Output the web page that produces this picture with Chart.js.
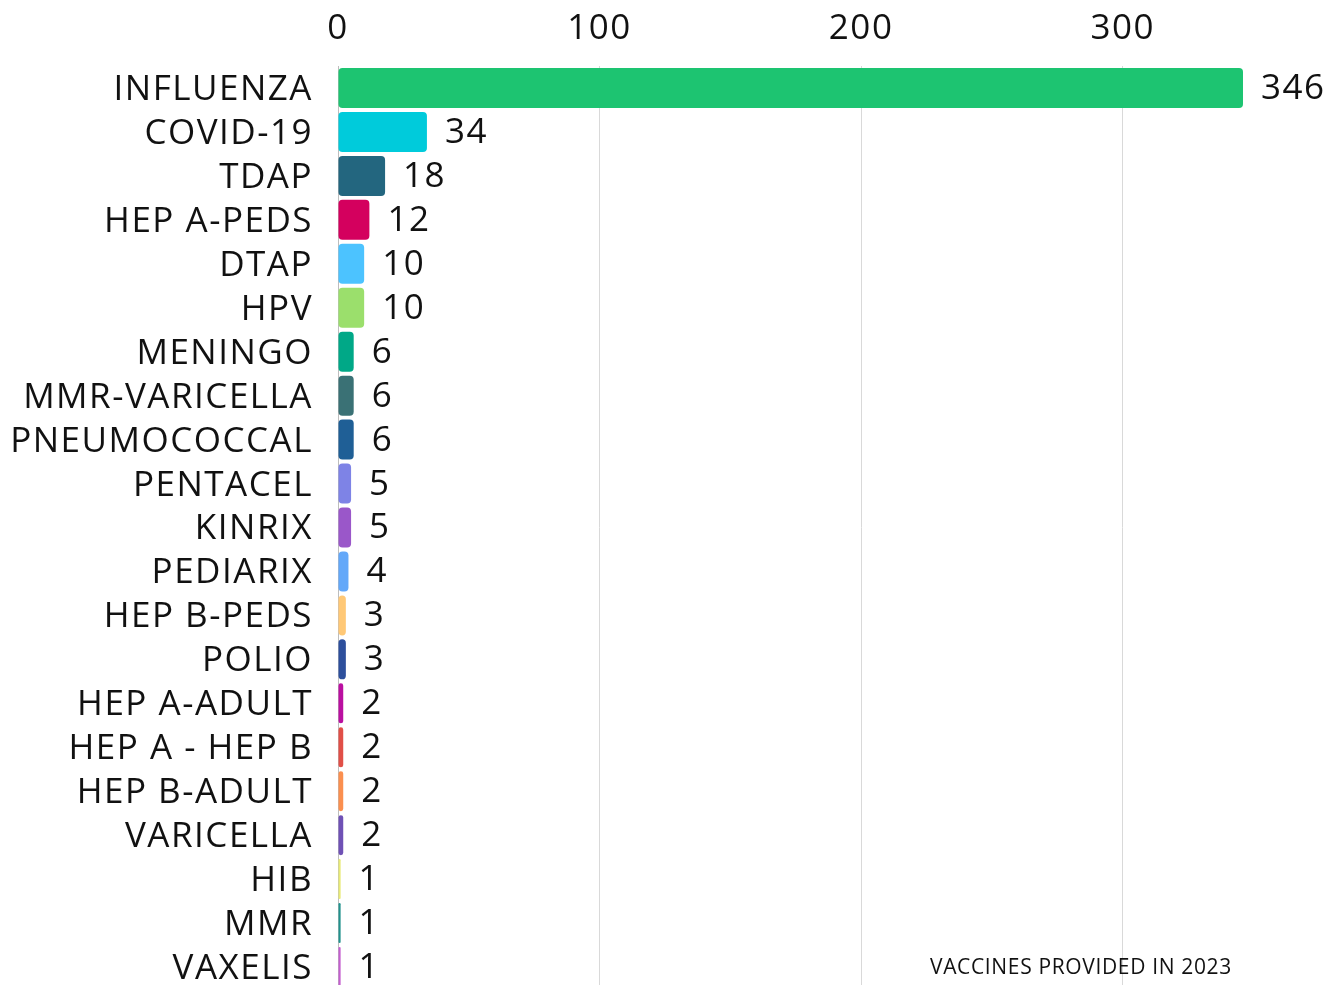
<!DOCTYPE html>
<html>
<head>
<meta charset="utf-8">
<script src="https://cdn.jsdelivr.net/npm/chart.js@4/dist/chart.umd.min.js"></script>
<style>
html,body{margin:0;padding:0;background:#fff;overflow:hidden;}
#wrap{position:relative;width:1331px;height:985px;overflow:hidden;}
#footer{position:absolute;left:930px;top:952px;font-family:"Open Sans",sans-serif;font-size:21px;letter-spacing:0.65px;color:#111;white-space:nowrap;}
</style>
</head>
<body>
<div id="wrap">
<canvas id="c" width="1331" height="1035"></canvas>
<div id="footer">VACCINES PROVIDED IN 2023</div>
</div>
<script>
const categories = ["INFLUENZA","COVID-19","TDAP","HEP A-PEDS","DTAP","HPV","MENINGO","MMR-VARICELLA","PNEUMOCOCCAL","PENTACEL","KINRIX","PEDIARIX","HEP B-PEDS","POLIO","HEP A-ADULT","HEP A - HEP B","HEP B-ADULT","VARICELLA","HIB","MMR","VAXELIS"];
const values = [346,34,18,12,10,10,6,6,6,5,5,4,3,3,2,2,2,2,1,1,1];
const barColors = ["#1DC471","#00CBDB","#23667F","#D4005E","#4CC3FF","#9BDF6C","#00A887","#3A7175","#1F5F96","#7E83E6","#9A57C9","#63A8F9","#FFC876","#2D4F9C","#BA0FA0","#E14F47","#FB8F4F","#6F51B5","#E8EA75","#21928D","#C45ECF"];
const xTicks = [0,100,200,300];

const FONT = "'Open Sans', sans-serif";
const SPACING = '1.5px';

const spacingPlugin = {
  id: 'spacing',
  beforeUpdate(chart) { chart.ctx.letterSpacing = SPACING; },
  beforeLayout(chart) { chart.ctx.letterSpacing = SPACING; },
  beforeDraw(chart) { chart.ctx.letterSpacing = SPACING; }
};

const valueLabels = {
  id: 'valueLabels',
  afterDatasetsDraw(chart) {
    const ctx = chart.ctx;
    const meta = chart.getDatasetMeta(0);
    ctx.save();
    ctx.letterSpacing = SPACING;
    ctx.font = "35px " + FONT;
    ctx.fillStyle = "#111";
    ctx.textAlign = "left";
    ctx.textBaseline = "middle";
    meta.data.forEach((bar, i) => {
      ctx.fillText(String(values[i]), bar.x + 18, bar.y + 1);
    });
    ctx.restore();
  }
};

new Chart(document.getElementById('c'), {
  type: 'bar',
  data: {
    labels: categories,
    datasets: [{
      data: values,
      backgroundColor: barColors,
      borderRadius: 4,
      borderSkipped: false,
      barPercentage: 0.91,
      categoryPercentage: 1.0
    }]
  },
  options: {
    indexAxis: 'y',
    responsive: false,
    animation: false,
    devicePixelRatio: 1,
    layout: { padding: { left: 0, right: 88, top: 0, bottom: 0 } },
    plugins: { legend: { display: false }, tooltip: { enabled: false } },
    scales: {
      x: {
        position: 'top',
        min: 0,
        max: 346,
        afterBuildTicks(scale) { scale.ticks = xTicks.map(v => ({ value: v })); },
        afterFit(scale) { scale.height = 66; },
        grid: { color: '#d9d9d9', lineWidth: 1, drawTicks: false },
        border: { display: false },
        ticks: { font: { family: FONT, size: 35 }, color: '#111', padding: 16, maxRotation: 0 }
      },
      y: {
        afterFit(scale) { scale.width = 338; },
        grid: { display: false, drawTicks: false },
        border: { display: true, color: '#bdbdbd', width: 1 },
        ticks: { font: { family: FONT, size: 35 }, color: '#111', padding: 25, labelOffset: 2, autoSkip: false }
      }
    }
  },
  plugins: [spacingPlugin, valueLabels]
});
</script>
</body>
</html>
